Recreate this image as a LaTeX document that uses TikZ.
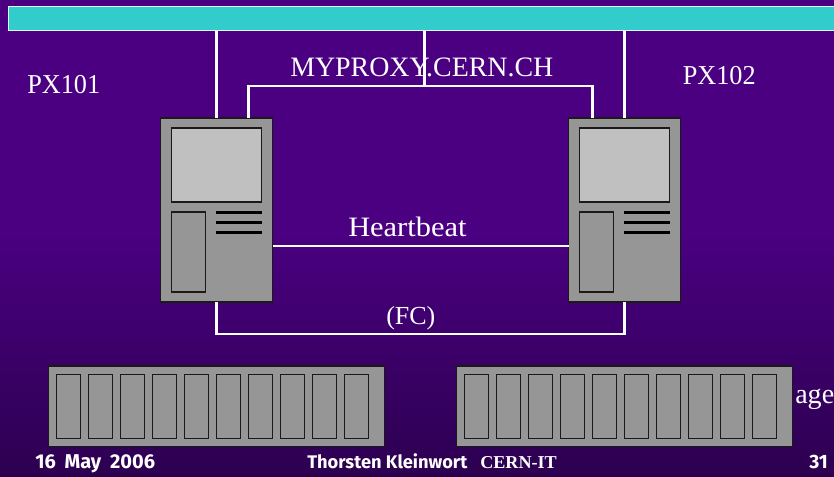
\documentclass[tikz,border=0pt]{standalone}
\usepackage{fontspec}
\setmainfont{Liberation Serif}
\newfontfamily\footfont{Fira Sans}
\usetikzlibrary{calc}
\definecolor{bgtop}{HTML}{4B0082}
\definecolor{bgbot}{HTML}{2C0050}
\definecolor{barc}{HTML}{33CCCC}
\definecolor{boxc}{HTML}{969696}
\definecolor{scrc}{HTML}{C0C0C0}
\definecolor{edgec}{HTML}{1A1A1A}
\tikzset{
  x=0.75pt,y=-0.75pt,
  wire/.style={draw=white,line width=2.2pt,line join=miter},
  box/.style={draw=edgec,line width=0.9pt,fill=boxc,inner sep=0pt,outer sep=0pt},
  dash bar/.style={draw=none,fill=black,inner sep=0pt,minimum width=34.5pt,minimum height=2.6pt},
  lab/.style={text=white,inner sep=0pt,anchor=base west,font=\fontsize{19.5pt}{20pt}\selectfont},
  foot/.style={text=white,inner sep=0pt,anchor=base west,font=\footfont\bfseries\fontsize{13.7pt}{15pt}\selectfont},
}
\newcommand{\slotrow}[2]{%
  \foreach \i in {0,...,9}{
    \node[box,minimum width=18.4pt,minimum height=48pt,line width=0.8pt] (#1s\i) at ({#2+7.8+12.3+32*\i},406.3) {};
  }}
\begin{document}
\begin{tikzpicture}
\useasboundingbox (0,0) rectangle (834,477);
\clip (0,0) rectangle (834,477);
\fill[bgtop] (0,0) rectangle (834,225);
\shade[top color=bgtop,bottom color=bgbot] (0,225) rectangle (834,477);
% bar
\node[draw=white!85!barc,line width=0.9pt,fill=barc,inner sep=0pt,minimum width=624pt,minimum height=18.2pt,anchor=north west] (bar) at (8,5.8) {};
% servers
\node[box,minimum width=84pt,minimum height=138pt] (pxa) at (216.5,210) {};
\node[box,minimum width=84pt,minimum height=138pt] (pxb) at (624.5,210) {};
\foreach \n/\o in {pxa/0,pxb/408}{
  \node[box,fill=scrc,minimum width=67.5pt,minimum height=55.5pt] (\n scr) at ({216.5+\o},165) {};
  \node[box,minimum width=25.5pt,minimum height=60pt] (\n slot) at ({188.5+\o},252) {};
  \node[dash bar] (\n la) at ({239+\o},212.5) {};
  \node[dash bar] (\n lb) at ({239+\o},222.5) {};
  \node[dash bar] (\n lc) at ({239+\o},232.5) {};
}
% storage
\node[box,minimum width=252pt,minimum height=60.4pt,anchor=west] (stga) at (48.5,406.3) {};
\node[box,minimum width=252pt,minimum height=60.4pt,anchor=west] (stgb) at (456.7,406.3) {};
\slotrow{a}{48.5}
\slotrow{b}{456.5}
% labels
\node[lab] (tpxa) at (27,94) {\scalebox{1.01}[1.05]{PX101}};
\node[lab] (tpxb) at (682.5,84.5) {\scalebox{1.01}[1.05]{PX102}};
\node[lab] (tmy) at (290,76.5) {\scalebox{1.073}[1.08]{MYPROXY.CERN.CH}};
\node[lab] (thb) at (348,236) {\scalebox{1.17}[1.08]{Heartbeat}};
\node[lab] (tfc) at (386,324.5) {(FC)};
\node[lab] (tst) at (795,403) {\scalebox{1.08}[1.08]{age}};
% connectors
\coordinate (ca) at (248.5,118);
\coordinate (cb) at (592.5,118);
\coordinate (cc) at (424.5,86);
\draw[wire] (pxa.north |- bar.south) -- (pxa.north);
\draw[wire] (pxb.north |- bar.south) -- (pxb.north);
\draw[wire] (cc |- bar.south) -- (cc);
\draw[wire] (ca) -- (ca |- cc) -- (cb |- cc) -- (cb);
\draw[wire] ($(pxa.east)+(0,36)$) -- ($(pxb.west)+(0,36)$);
\draw[wire] (pxa.south) -- ++(0,32) -| (pxb.south);
% footer
\node[foot,font=\footfont\bfseries\fontsize{15pt}{16pt}\selectfont] (fa) at (35,468) {16\hspace{3pt} May\hspace{3pt} 2006};
\node[foot] (fb) at (307,468) {Thorsten Kleinwort};
\node[foot,font=\rmfamily\bfseries\fontsize{13.6pt}{15pt}\selectfont] (fd) at (480,468) {CERN-IT};
\node[foot,font=\footfont\bfseries\fontsize{14.5pt}{15pt}\selectfont] (fc) at (809,468) {31};
\end{tikzpicture}
\end{document}
